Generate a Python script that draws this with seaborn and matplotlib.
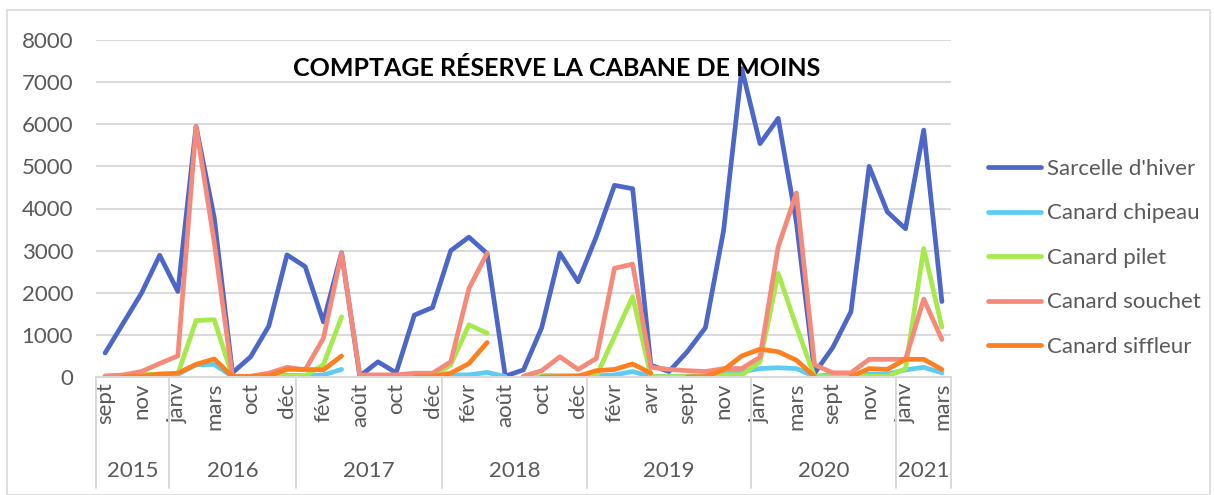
import matplotlib
matplotlib.use("Agg")
import matplotlib.pyplot as plt
from matplotlib.lines import Line2D
from matplotlib.patches import Rectangle
import seaborn as sns
import numpy as np
import pandas as pd

# Categories (month, year) along the x axis
months = ['sept', 'oct', 'nov', 'déc',
          'janv', 'févr', 'mars', 'avr', 'oct', 'nov', 'déc',
          'janv', 'févr', 'mars', 'août', 'sept', 'oct', 'nov', 'déc',
          'janv', 'févr', 'mars', 'août', 'sept', 'oct', 'nov', 'déc',
          'janv', 'févr', 'mars', 'avr', 'août', 'sept', 'oct', 'nov', 'déc',
          'janv', 'févr', 'mars', 'août', 'sept', 'oct', 'nov', 'déc',
          'janv', 'févr', 'mars']
years = ['2015'] * 4 + ['2016'] * 7 + ['2017'] * 8 + ['2018'] * 8 + \
        ['2019'] * 9 + ['2020'] * 8 + ['2021'] * 3

N = None
sarcelle = [570, 1280, 1990, 2890, 2030, 5950, 3780, 100, 480, 1210, 2900,
            2620, 1310, 2950, 20, 360, 100, 1470, 1650,
            3000, 3320, 2930, 20, 170, 1170, 2940, 2260,
            3330, 4550, 4470, 280, 130, 600, 1170, 3480, 7320,
            5540, 6140, 3680, 90, 700, 1550, 5000, 3920,
            3520, 5860, 1790]
chipeau = [20, 30, 40, 50, 60, 290, 300, 10, 10, 20, 40,
           30, 50, 180, N, N, N, N, 20,
           50, 50, 110, 10, N, 30, 30, 30,
           30, 50, 130, 10, 20, 20, 20, 90, 130,
           200, 220, 200, 10, 70, 70, 70, 70,
           170, 230, 100]
pilet = [30, 40, 60, 70, 70, 1340, 1360, 10, 10, 10, 30,
         30, 290, 1430, N, 0, 0, 0, 10,
         290, 1240, 1040, N, 10, 10, 10, 10,
         20, 960, 1910, 10, 10, 10, 10, 50, 50,
         360, 2460, 1200, 10, 10, 20, 20, 10,
         200, 3050, 1180]
souchet = [10, 50, 130, 320, 500, 5950, 3200, 10, 20, 90, 230,
           170, 920, 2940, 50, 50, 50, 90, 90,
           360, 2100, 2940, N, 20, 150, 480, 180,
           440, 2580, 2680, 230, 180, 150, 130, 200, 200,
           470, 3090, 4370, 290, 100, 100, 420, 420,
           420, 1850, 890]
siffleur = [N, 0, 20, 70, 90, 300, 430, 10, 10, 30, 180,
            180, 170, 500, N, N, N, 0, 10,
            90, 320, 820, N, N, 0, 10, 20,
            150, 180, 310, 90, N, 0, 10, 170, 500,
            660, 600, 400, 10, N, 10, 200, 180,
            420, 420, 180]

series = {
    "Sarcelle d'hiver": sarcelle,
    'Canard chipeau': chipeau,
    'Canard pilet': pilet,
    'Canard souchet': souchet,
    'Canard siffleur': siffleur,
}
colors = ['#4d67c9', '#5ecbf2', '#a6e94c', '#f58a7a', '#fd7f1f']
title = 'COMPTAGE RÉSERVE LA CABANE DE MOINS'

# long-form table, one segment id per unbroken run so gaps stay gaps
rows = []
for name, vals in series.items():
    seg = 0
    prev = None
    for i, v in enumerate(vals):
        if v is None:
            prev = None
            continue
        if prev is None:
            seg += 1
        rows.append({'pos': i, 'value': v, 'espece': name, 'seg': seg})
        prev = v
df = pd.DataFrame(rows)

sns.set_style('white')
plt.rcParams['font.family'] = ['Lato', 'DejaVu Sans']
grey = '#595959'
fs = 16

fig = plt.figure(figsize=(12.14, 4.95), dpi=100)
ax = fig.add_axes([96 / 1214, 1 - 377 / 495, (951 - 96) / 1214, (377 - 40) / 495])

sns.lineplot(data=df, x='pos', y='value', hue='espece', units='seg',
             estimator=None, palette=colors, hue_order=list(series),
             linewidth=3.4, legend=False, ax=ax, sort=False,
             solid_capstyle='round', solid_joinstyle='round')

n = len(months)
ax.set_xlim(-0.5, n - 0.5)
ax.set_ylim(0, 8000)
ax.set_yticks(range(0, 8001, 1000))
ax.set_yticklabels([str(v) for v in range(0, 8001, 1000)], color=grey, fontsize=fs)
ax.tick_params(axis='y', length=0, pad=16.5)
ax.grid(axis='y', color='#d9d9d9', linewidth=1.4)
ax.set_axisbelow(True)
for s in ['top', 'right', 'left']:
    ax.spines[s].set_visible(False)
ax.spines['bottom'].set_color('#d9d9d9')
ax.spines['bottom'].set_linewidth(1.4)
ax.set_xlabel('')
ax.set_ylabel('')

# month labels every other category
ax.set_xticks(range(0, n, 2))
ax.set_xticklabels(months[::2], rotation=90, color=grey, fontsize=fs)
ax.tick_params(axis='x', length=0, pad=4)

# year groups with separators
trans = ax.get_xaxis_transform()
bounds = [-0.5]
for i in range(1, n):
    if years[i] != years[i - 1]:
        bounds.append(i - 0.5)
bounds.append(n - 0.5)
for b in bounds:
    ax.plot([b, b], [0, -111 / 337], transform=trans, color='#d9d9d9',
            linewidth=1.4, clip_on=False)
for a, b in zip(bounds[:-1], bounds[1:]):
    ax.text((a + b) / 2, -94 / 337, years[int(a + 1)], transform=trans,
            ha='center', va='center', color=grey, fontsize=fs)

fig.text(557 / 1214, 1 - 68 / 495, title, ha='center', va='center',
         fontsize=18, fontweight='bold', color='black')

handles = [Line2D([0], [0], color=c, linewidth=3.4, solid_capstyle='round')
           for c in colors]
fig.legend(handles, list(series), loc='upper left',
           bbox_to_anchor=(988 / 1214, 1 - 159 / 495), frameon=False,
           fontsize=fs, labelcolor=grey, handlelength=2.4,
           handletextpad=0.25, labelspacing=1.1, borderpad=0,
           borderaxespad=0)

fig.patches.append(Rectangle((7 / 1214, 0), 1203 / 1214, 1 - 10 / 495,
                             transform=fig.transFigure, fill=False,
                             edgecolor='#d9d9d9', linewidth=1.2))

fig.savefig('out.png', dpi=100)
